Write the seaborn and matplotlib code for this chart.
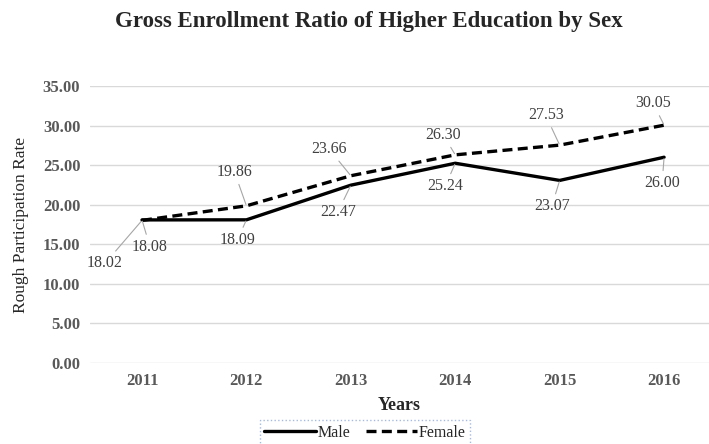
import pandas as pd
import seaborn as sns
import matplotlib.pyplot as plt

# dados
anos = [2011, 2012, 2013, 2014, 2015, 2016]
masculino = [18.08, 18.09, 22.47, 25.24, 23.07, 26.00]
feminino = [18.02, 19.86, 23.66, 26.30, 27.53, 30.05]
yticks = [0, 5, 10, 15, 20, 25, 30, 35]

tabela = pd.DataFrame({
    'Years': anos * 2,
    'Rate': masculino + feminino,
    'Sex': ['Male'] * len(anos) + ['Female'] * len(anos),
})

sns.set_style('white')
plt.rcParams['font.family'] = ['Liberation Serif', 'DejaVu Serif']

fig = plt.figure(figsize=(7.09, 4.44), dpi=100)
ax = fig.add_axes([90 / 709, (444 - 363) / 444, 1 - 90 / 709, (363 - 86) / 444])

sns.lineplot(data=tabela, x='Years', y='Rate', hue='Sex', style='Sex',
             palette=['black', 'black'], dashes={'Male': '', 'Female': (3, 1.6)},
             linewidth=2.4, ax=ax, legend=True)

ax.set_xlim(2010.502, 2016.43)
ax.set_ylim(0, 35)
ax.set_xticks(anos)
ax.set_xticklabels([str(a) for a in anos], fontsize=12, fontweight='bold', color='#595959')
ax.set_yticks(yticks)
ax.set_yticklabels(['%.2f' % v for v in yticks], fontsize=12, fontweight='bold', color='#595959')
ax.tick_params(length=0, pad=7)
ax.grid(axis='y', color='#d9d9d9', linewidth=1)
ax.set_axisbelow(True)
for s in ax.spines.values():
    s.set_visible(False)

ax.set_xlabel('Years', fontsize=13, fontweight='bold', labelpad=6)
ax.set_ylabel('Rough Participation Rate', fontsize=12.5, labelpad=10)
fig.text(0.52, 0.952, 'Gross Enrollment Ratio of Higher Education by Sex',
         ha='center', va='center', fontsize=16.5, fontweight='bold')

# rotulos com linhas de chamada (deslocamentos em pixels)
desl_m = [(8, -27), (-9, -20), (-13, -27), (-10, -23), (-8, -26), (-2, -26)]
desl_f = [(-37, -43), (-12, 34), (-22, 27), (-12, 20), (-14, 30), (-11, 22)]
for serie, desl in [(masculino, desl_m), (feminino, desl_f)]:
    for a, v, d in zip(anos, serie, desl):
        ax.annotate('%.2f' % v, xy=(a, v), xytext=d, textcoords='offset pixels',
                    ha='center', va='center', fontsize=11.5, color='#404040',
                    arrowprops=dict(arrowstyle='-', color='#a6a6a6', lw=0.8,
                                    shrinkA=1, shrinkB=1))

leg = ax.legend(loc='center', bbox_to_anchor=(365 / 709, 11 / 444),
                bbox_transform=fig.transFigure, ncol=2, frameon=True,
                fontsize=11.5, handlelength=3.2, handletextpad=0.1,
                columnspacing=1.0, borderpad=0.3, fancybox=False)
leg.get_frame().set_edgecolor('#8fa9d9')
leg.get_frame().set_linestyle(':')
leg.get_frame().set_linewidth(1)

fig.savefig('out.png', dpi=100)
